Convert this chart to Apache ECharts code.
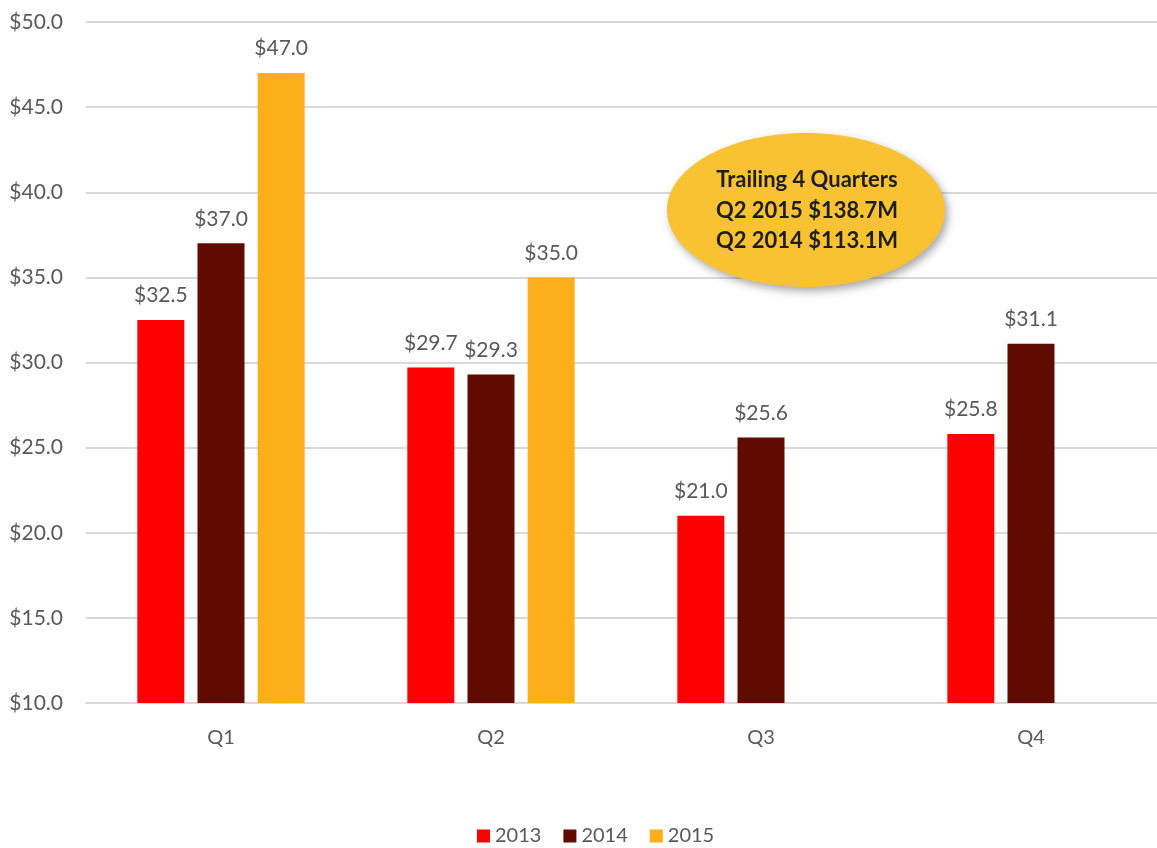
<!DOCTYPE html>
<html><head><meta charset="utf-8">
<script src="https://cdn.jsdelivr.net/npm/echarts@6/dist/echarts.min.js"></script>
<style>html,body{margin:0;padding:0;background:#fff}#c{width:1157px;height:848px}</style>
</head><body><div id="c"></div>
<script>
const categories = ['Q1', 'Q2', 'Q3', 'Q4'];
const seriesNames = ['2013', '2014', '2015'];
const values2013 = [32.5, 29.7, 21.0, 25.8];
const values2014 = [37.0, 29.3, 25.6, 31.1];
const values2015 = [47.0, 35.0, null, null];
const yTicks = { min: 10, max: 50, interval: 5 };
const noteLines = ['Trailing 4 Quarters', 'Q2 2015 $138.7M', 'Q2 2014 $113.1M'];

const colors = ['#FF0000', '#600A00', '#FDAE1B'];
const font = 'Lato, "Open Sans", sans-serif';
const chart = echarts.init(document.getElementById('c'), null, { renderer: 'canvas' });
function mk(name, data, color) {
  return {
    name, type: 'bar', data, barWidth: 47, barGap: '28%',
    itemStyle: { color },
    label: { show: true, position: 'top', distance: 14, color: '#595959', fontFamily: font, fontSize: 21,
      formatter: p => '$' + p.value.toFixed(1) },
    emphasis: { disabled: true }
  };
}
chart.setOption({
  animation: false,
  textStyle: { fontFamily: font },
  grid: { left: 86, width: 1080, top: 22, height: 681, containLabel: false, outerBoundsMode: 'none' },
  legend: {
    top: 821, left: 472, itemWidth: 13, itemHeight: 13, itemGap: 22,
    icon: 'rect', textStyle: { color: '#595959', fontSize: 20, fontFamily: font },
    data: seriesNames
  },
  xAxis: {
    type: 'category', data: categories,
    axisLine: { lineStyle: { color: '#D9D9D9', width: 2 } },
    axisTick: { show: false },
    axisLabel: { color: '#595959', fontSize: 20, fontFamily: font, margin: 25 }
  },
  yAxis: {
    type: 'value', min: yTicks.min, max: yTicks.max, interval: yTicks.interval,
    axisLine: { show: false }, axisTick: { show: false },
    splitLine: { lineStyle: { color: '#D9D9D9', width: 2 } },
    axisLabel: { color: '#595959', fontSize: 21, fontFamily: font, margin: 23,
      formatter: v => '$' + v.toFixed(1) }
  },
  series: [mk(seriesNames[0], values2013, colors[0]), mk(seriesNames[1], values2014, colors[1]), mk(seriesNames[2], values2015, colors[2])],
  graphic: [
    { type: 'ellipse', shape: { cx: 806, cy: 210, rx: 139, ry: 77 }, z: 100,
      style: { fill: '#F8C232', shadowBlur: 8, shadowOffsetX: 3, shadowOffsetY: 4, shadowColor: 'rgba(0,0,0,0.35)' } },
    { type: 'text', x: 807, y: 180, z: 101, style: { text: noteLines[0], fill: '#1E1E1E', font: 'bold 22px ' + font, align: 'center', verticalAlign: 'middle' } },
    { type: 'text', x: 807, y: 211, z: 101, style: { text: noteLines[1], fill: '#1E1E1E', font: 'bold 22px ' + font, align: 'center', verticalAlign: 'middle' } },
    { type: 'text', x: 807, y: 241, z: 101, style: { text: noteLines[2], fill: '#1E1E1E', font: 'bold 22px ' + font, align: 'center', verticalAlign: 'middle' } }
  ]
});
</script></body></html>
